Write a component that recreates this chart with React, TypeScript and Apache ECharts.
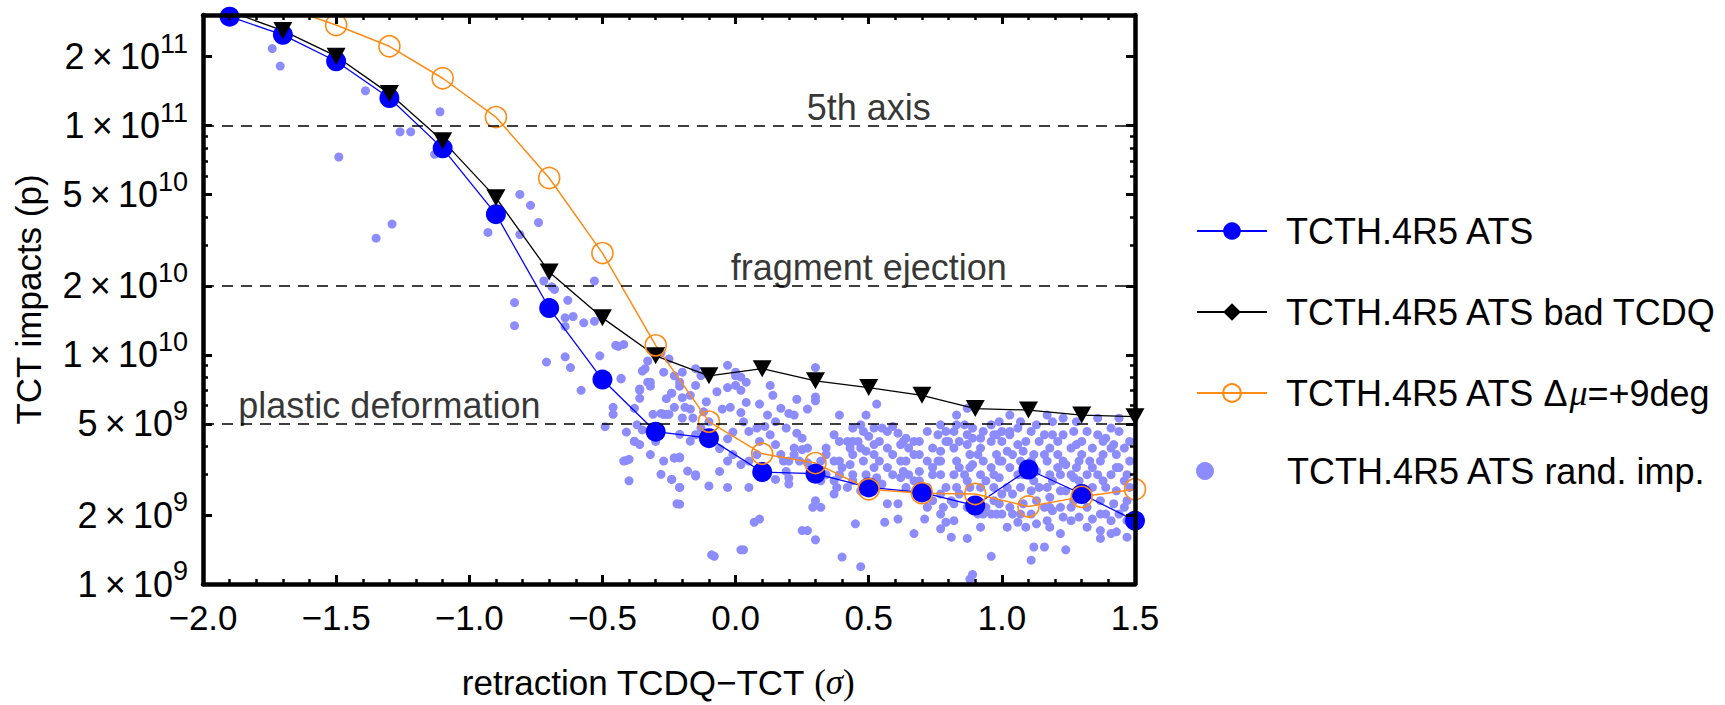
import React, { useEffect, useRef } from 'react';
import * as echarts from 'echarts';

// x positions of the simulated retraction settings (sigma)
const xPositions = [-1.9, -1.7, -1.5, -1.3, -1.1, -0.9, -0.7, -0.5, -0.3, -0.1, 0.1, 0.3, 0.5, 0.7, 0.9, 1.1, 1.3, 1.5];
// all values in units of 10^9 protons
const atsValues = [299, 249, 191, 132, 79.6, 41.1, 16.0, 7.8, 4.62, 4.33, 3.08, 3.03, 2.64, 2.51, 2.2, 3.16, 2.47, 1.89];
const badTcdqValues = [315, 260, 201, 138, 86, 48.5, 23.0, 14.5, 9.9, 8.1, 8.7, 7.7, 7.2, 6.66, 5.83, 5.74, 5.46, 5.37];
const dmuValues = [400, 330, 275, 222, 161, 109, 59.1, 27.8, 11.0, 5.11, 3.7, 3.37, 2.59, 2.49, 2.47, 2.18, 2.4, 2.59];

const randImpacts: number[][] = [
  [-1.74, 217], [-1.71, 182], [-1.39, 142], [-1.11, 115], [-1.26, 94], [-1.22, 94], [-1.49, 73], [-1.13, 75],
  [-1.35, 32.3], [-1.29, 37.2], [-0.81, 50.1], [-0.77, 44.9], [-0.74, 37.8], [-0.93, 34.2], [-0.81, 33.5],
  [-0.53, 21.0], [-0.83, 16.9], [-0.83, 13.4], [-0.72, 21.0], [-0.68, 19.3], [-0.69, 19.8], [-0.63, 17.3],
  [-0.64, 14.5], [-0.61, 14.7], [-0.64, 13.3], [-0.57, 13.8], [-0.53, 14.0],
  [-0.71, 9.3], [-0.64, 9.8], [-0.62, 8.8], [-0.58, 7.0],
  [-0.44, 10.9], [-0.51, 9.9], [-0.43, 7.9], [-0.46, 5.9], [-0.46, 5.5], [-0.49, 4.86], [-0.41, 3.46], [-0.38, 4.19],
  [-0.35, 4.7], [-0.36, 7.1], [-0.33, 7.6], [-0.36, 6.46], [-0.34, 8.7], [-0.32, 7.3], [-0.27, 5.5], [-0.26, 5.5],
  [-0.25, 5.5], [-0.24, 2.86], [-0.21, 2.64], [-0.21, 2.23], [-0.23, 3.55], [-0.21, 3.55], [-0.24, 6.8], [-0.21, 7.3],
  [-0.2, 6.5], [-0.16, 5.3], [-0.15, 2.96], [-0.15, 4.48], [-0.09, 1.34], [0.03, 1.41], [-0.45, 11.0],
  [-0.42, 11.1], [-0.43, 7.85], [-0.35, 8.5], [-0.32, 7.6], [-0.36, 7.0], [-0.41, 4.6], [-0.38, 4.2], [-0.42, 3.44],
  [-0.4, 3.5], [-0.33, 9.4], [-0.28, 10.2], [-0.25, 9.6], [-0.23, 8.1], [-0.2, 8.4], [-0.21, 7.6], [-0.24, 6.8],
  [-0.27, 5.5], [-0.31, 5.5], [-0.28, 5.55], [-0.23, 5.9], [-0.19, 5.9], [-0.17, 5.8], [-0.2, 5.3], [-0.21, 4.5],
  [-0.17, 4.2], [-0.23, 3.55], [-0.21, 3.58], [-0.15, 3.0], [-0.24, 2.86], [-0.21, 2.64], [-0.22, 2.24], [-0.1, 2.68],
  [-0.03, 2.64], [-0.08, 1.32], [-0.06, 3.1], [-0.03, 3.44], [-0.07, 6.9], [-0.03, 7.2], [0.0, 8.1], [0.0, 7.35],
  [0.02, 7.0], [0.04, 7.6], [-0.05, 5.8], [-0.02, 5.9], [0.02, 5.6], [-0.03, 9.0], [0.0, 8.4], [0.02, 8.0],
  [0.04, 6.2], [0.03, 5.1], [-0.01, 4.6], [-0.03, 4.3], [-0.06, 3.9], [-0.01, 3.67], [0.02, 3.32], [0.05, 3.44],
  [0.08, 3.67], [0.05, 2.64], [0.07, 1.86], [0.09, 1.92], [0.02, 1.41], [0.09, 6.1], [0.13, 7.35], [0.14, 6.66],
  [0.11, 4.87], [0.13, 4.48], [0.15, 4.06], [0.17, 3.67], [0.15, 2.86], [0.19, 3.1], [0.2, 2.9], [0.2, 2.73],
  [0.23, 6.4], [0.27, 5.8], [0.3, 8.8], [0.3, 6.55], [0.3, 6.3], [0.2, 5.55], [0.22, 5.46], [0.23, 4.55],
  [0.25, 4.33], [0.22, 3.92], [0.22, 3.67], [0.2, 3.44], [0.25, 3.86], [0.27, 3.38], [0.29, 3.1], [0.32, 2.82],
  [0.34, 3.0], [0.37, 3.44], [0.39, 3.0], [0.4, 3.22], [0.43, 3.32], [0.44, 3.67], [0.47, 3.92], [0.49, 3.8],
  [0.52, 4.06], [0.38, 2.64], [0.37, 2.47], [0.32, 2.16], [0.3, 2.31], [0.29, 2.16], [0.25, 1.71], [0.27, 1.71],
  [0.3, 1.56], [0.39, 5.46], [0.37, 4.48], [0.39, 4.19], [0.44, 4.79], [0.47, 4.95], [0.48, 4.63], [0.49, 5.46],
  [0.46, 4.19], [0.5, 4.41], [0.53, 6.1], [0.52, 4.79], [0.55, 4.79], [0.57, 4.63], [0.59, 4.87], [0.61, 4.55],
  [0.63, 4.19], [0.64, 4.33], [0.67, 4.19], [0.59, 3.67], [0.62, 3.44], [0.64, 3.44], [0.67, 3.67], [0.69, 3.1],
  [0.54, 3.44], [0.52, 3.22], [0.53, 2.91], [0.55, 2.73], [0.57, 2.24], [0.61, 2.24], [0.45, 1.83], [0.47, 1.19],
  [0.4, 1.31], [0.56, 1.86], [0.61, 1.92], [0.67, 1.66], [0.71, 1.92], [0.69, 2.82], [0.74, 3.22], [0.76, 3.44],
  [0.77, 3.8], [0.79, 4.19], [0.8, 4.19], [0.82, 4.63], [0.83, 5.46], [0.87, 5.84], [0.74, 3.92], [0.77, 3.0],
  [0.79, 2.64], [0.81, 2.31], [0.78, 2.16], [0.77, 2.02], [0.79, 1.86], [0.82, 1.89], [0.77, 1.74], [0.81, 1.6],
  [0.87, 1.58], [0.89, 1.1], [0.88, 1.05], [0.92, 1.77], [0.96, 1.32], [0.98, 2.02], [0.97, 2.31], [0.94, 2.16],
  [0.93, 2.02], [0.99, 2.24], [1.03, 2.16], [1.07, 2.02], [1.06, 1.86], [1.09, 1.77], [1.12, 1.45], [1.11, 1.27],
  [1.16, 1.45], [1.13, 1.83], [1.17, 1.89], [1.19, 2.09], [1.23, 1.96], [1.22, 1.66], [1.24, 1.41], [1.29, 1.96],
  [1.32, 2.16], [1.34, 1.92], [1.37, 1.71], [1.37, 1.58], [1.41, 1.66], [1.43, 1.69], [1.47, 1.6], [0.88, 2.64],
  [0.86, 3.0], [0.83, 3.44], [0.82, 3.92], [0.87, 4.06], [0.89, 4.33], [0.92, 3.92], [0.96, 4.19], [0.98, 4.48],
  [1.0, 4.19], [1.03, 4.48], [1.02, 3.8], [0.99, 3.44], [0.97, 3.0], [0.94, 2.82], [0.92, 3.0], [0.89, 3.32],
  [0.88, 3.67], [1.04, 3.67], [1.07, 3.44], [1.06, 3.0], [1.12, 2.82], [1.14, 2.64], [1.13, 2.31], [1.16, 2.16],
  [1.18, 2.39], [1.19, 2.82], [1.22, 3.0], [1.24, 3.32], [1.21, 3.67], [1.18, 3.92], [1.17, 3.44], [1.12, 3.67],
  [1.09, 4.19], [1.14, 4.19], [1.19, 4.48], [1.23, 4.48], [1.26, 3.92], [1.28, 4.06], [1.29, 3.44], [1.32, 3.0],
  [1.34, 3.22], [1.37, 3.44], [1.34, 3.92], [1.38, 4.19], [1.41, 3.92], [1.43, 3.67], [1.44, 3.22], [1.46, 2.82],
  [1.43, 2.55], [1.42, 2.24], [1.39, 2.02], [1.44, 2.02], [1.47, 2.31], [1.48, 3.44], [1.46, 3.92], [1.44, 4.63],
  [1.41, 4.79], [1.36, 5.29], [1.32, 4.63], [1.28, 5.11], [1.23, 5.29], [1.19, 5.11], [1.17, 5.46], [1.13, 4.95],
  [1.07, 5.11], [1.03, 5.46], [0.99, 5.11], [0.96, 4.95], [0.93, 4.63], [0.89, 4.79], [0.86, 4.95], [0.83, 4.95],
  [1.03, 4.63], [1.44, 5.29], [1.29, 2.82], [1.27, 2.31], [1.24, 2.55], [1.22, 2.16], [1.18, 2.16], [1.08, 2.24],
  [1.11, 2.02], [1.02, 2.64], [1.04, 2.47], [0.99, 2.91], [1.34, 2.64], [1.37, 2.31], [1.39, 2.64], [1.32, 2.47],
  [1.27, 2.91], [1.08, 3.0], [1.09, 3.22], [1.22, 2.55], [0.89, 2.31], [0.84, 2.47], [0.77, 2.47], [0.74, 2.31],
  [0.72, 2.16], [0.64, 2.64], [0.62, 2.91], [0.65, 3.0], [0.68, 2.55], [0.72, 2.64], [0.47, 2.55], [0.44, 2.82],
  [0.49, 3.0], [0.52, 2.64], [0.42, 2.64], [0.67, 2.82], [0.37, 2.82],
  [0.82, 3.0], [0.84, 3.22], [0.91, 3.67], [0.93, 3.44], [0.96, 3.22], [0.98, 3.67], [1.0, 3.44], [1.03, 3.22],
  [1.06, 4.06], [1.08, 3.8], [1.11, 3.44], [1.13, 3.1], [1.16, 3.67], [1.18, 3.0], [1.21, 3.22], [1.23, 3.44],
  [1.26, 3.0], [1.28, 3.22], [1.3, 3.67], [1.33, 3.44], [1.36, 3.0], [1.38, 2.82], [1.41, 3.0], [1.43, 3.22],
  [1.47, 3.0], [1.48, 2.64], [1.46, 2.16], [1.47, 1.89], [1.41, 1.89], [1.37, 2.02], [1.26, 2.16], [1.28, 2.55],
  [1.17, 2.64], [1.11, 2.55], [1.07, 2.64], [1.0, 2.47], [0.97, 2.64], [0.92, 2.64], [0.87, 2.82], [0.83, 2.64],
  [0.82, 2.24], [0.87, 2.16], [0.91, 2.02], [0.96, 2.02], [1.0, 2.02], [1.04, 2.02], [1.02, 1.77], [1.18, 1.77],
  [1.26, 1.89], [1.32, 1.77], [1.21, 4.19], [1.16, 4.48], [1.11, 4.63], [1.06, 4.79], [1.0, 4.63], [0.97, 4.48],
  [0.92, 4.33], [0.87, 4.48], [0.84, 4.19], [1.27, 4.63], [1.3, 4.19], [1.36, 4.48], [1.39, 4.33], [1.42, 4.06],
  [1.48, 4.19], [1.38, 3.67], [0.88, 3.22], [0.77, 3.44], [0.74, 3.0], [0.72, 3.44], [0.69, 3.67], [0.69, 4.19],
  [0.72, 4.63], [0.76, 4.48], [0.77, 4.95], [0.79, 4.63], [0.57, 3.92], [0.62, 4.06], [0.65, 3.92], [0.54, 4.19],
  [0.52, 3.67], [0.57, 3.22], [0.59, 3.0], [0.63, 3.1], [0.42, 4.19], [0.43, 3.92], [0.44, 4.19], [0.48, 3.44],
  [0.44, 3.0], [0.39, 3.44], [0.34, 3.67], [0.32, 3.44], [0.34, 3.92], [0.27, 3.92], [0.24, 3.44], [0.18, 3.44],
  [0.15, 5.11], [0.17, 5.84], [0.19, 4.79], [0.12, 5.46], [0.08, 4.79], [0.05, 4.63], [0.09, 4.19], [-0.11, 6.24],
  [-0.12, 5.64], [-0.1, 5.11], [-0.13, 4.79], [-0.3, 4.19], [-0.36, 4.06], [-0.32, 3.67], [-0.27, 3.44], [-0.18, 3.11],
  [-0.28, 3.01], [-0.4, 2.82], [-0.37, 4.95], [-0.26, 6.44], [-0.17, 6.66], [-0.15, 7.35], [-0.13, 8.12], [-0.15, 8.7],
  [-0.27, 8.4], [-0.38, 5.84]
];

const thresholdValues = [100, 20, 5];
const thresholdLabels = ['5th axis', 'fragment ejection', 'plastic deformation'];
const thresholdLabelX = [0.5, 0.5, -1.3];

const yMajorTicks = [1, 2, 5, 10, 20, 50, 100, 200];
const yMinorTicks = [3, 4, 6, 7, 8, 9, 30, 40, 60, 70, 80, 90];

const seriesNames = [
  'TCTH.4R5 ATS',
  'TCTH.4R5 ATS bad TCDQ',
  'TCTH.4R5 ATS \u0394\u03bc=+9deg',
  'TCTH.4R5 ATS rand. imp.'
];

const FONT = '"Liberation Sans", Arial, Helvetica, sans-serif';
const SERIF = '"Liberation Serif", "DejaVu Serif", serif';
const BLUE = '#0000ff';
const ORANGE = '#ff8a14';
const LIGHT = '#8c8cff';

const Y_MIN = 1;
const Y_MAX = 304;

function yLabel(v: number) {
  const e = Math.floor(Math.log10(v) + 1e-9);
  const m = Math.round(v / Math.pow(10, e));
  return `{m|${m}\u2009\u00d7\u200910}{e|${e + 9}}`;
}

function xLabel(v: number) {
  const s = Math.abs(v).toFixed(1);
  return v < -1e-9 ? '\u2212' + s : s;
}

export default function App() {
  const ref = useRef<HTMLDivElement>(null);

  useEffect(() => {
    if (!ref.current) return;
    const chart = echarts.init(ref.current, undefined, { renderer: 'svg' });

    const frame = { color: '#000', width: 4.5 };
    const majorTick = { show: true, inside: true, length: 9, lineStyle: { color: '#000', width: 3 } };
    const minorTickY = { show: true, inside: true, length: 5, lineStyle: { color: '#000', width: 2.5 } };

    const xCommon = {
      type: 'value',
      min: -2,
      max: 1.5,
      interval: 0.5,
      z: 5,
      splitLine: { show: false },
      minorSplitLine: { show: false },
      axisLine: { show: true, onZero: false, lineStyle: frame },
      axisTick: majorTick,
      minorTick: { show: true, splitNumber: 5, length: 5, lineStyle: { color: '#000', width: 2.5 } }
    };

    const yCommon = {
      type: 'log',
      logBase: 10,
      min: Y_MIN,
      max: Y_MAX,
      z: 5,
      splitLine: { show: false }
    };

    const option: any = {
      animation: false,
      backgroundColor: '#fff',
      grid: { left: 203, right: 590, top: 15, bottom: 114, containLabel: false },
      xAxis: [
        {
          ...xCommon,
          position: 'bottom',
          axisLabel: {
            show: true,
            margin: 16,
            fontSize: 35,
            color: '#000',
            fontFamily: FONT,
            showMinLabel: true,
            showMaxLabel: true,
            formatter: xLabel
          },
          name: '{a|retraction TCDQ\u2212TCT }{b|(}{c|\u03c3}{b|)}',
          nameLocation: 'middle',
          nameGap: 81,
          nameTextStyle: {
            padding: [0, 22, 0, 0],
            rich: {
              a: { fontSize: 35, fontFamily: FONT, color: '#000' },
              b: { fontSize: 35, fontFamily: SERIF, color: '#000' },
              c: { fontSize: 35, fontFamily: SERIF, fontStyle: 'italic', color: '#000' }
            }
          }
        },
        {
          ...xCommon,
          position: 'top',
          axisLabel: { show: false }
        }
      ],
      yAxis: [
        {
          ...yCommon,
          position: 'left',
          axisLine: { show: true, onZero: false, lineStyle: frame },
          axisTick: { ...majorTick, customValues: yMajorTicks },
          axisLabel: {
            show: true,
            customValues: yMajorTicks,
            margin: 15,
            formatter: yLabel,
            rich: {
              m: { fontSize: 36, fontFamily: FONT, color: '#000' },
              e: { fontSize: 27, fontFamily: FONT, color: '#000', padding: [0, 0, 26, 0] }
            }
          },
          name: 'TCT impacts (p)',
          nameLocation: 'middle',
          nameGap: 157,
          nameTextStyle: { fontSize: 35, fontFamily: FONT, color: '#000' }
        },
        {
          ...yCommon,
          position: 'left',
          axisLine: { show: false, onZero: false },
          axisTick: { ...minorTickY, customValues: yMinorTicks },
          axisLabel: { show: false }
        },
        {
          ...yCommon,
          position: 'right',
          axisLine: { show: true, onZero: false, lineStyle: frame },
          axisTick: { ...majorTick, customValues: yMajorTicks },
          axisLabel: { show: false }
        },
        {
          ...yCommon,
          position: 'right',
          axisLine: { show: false, onZero: false },
          axisTick: { ...minorTickY, customValues: yMinorTicks },
          axisLabel: { show: false }
        }
      ],
      legend: [
        {
          data: seriesNames.slice(0, 3),
          orient: 'vertical',
          left: 1196,
          top: 213,
          padding: 0,
          itemWidth: 70,
          itemHeight: 22,
          itemGap: 45,
          selectedMode: false,
          formatter: (name: string) => name.replace('\u03bc', '{mu|\u03bc}'),
          textStyle: {
            fontSize: 36,
            fontFamily: FONT,
            color: '#000',
            padding: [0, 0, 0, 14],
            rich: {
              mu: { fontSize: 36, fontFamily: SERIF, fontStyle: 'italic', color: '#000' }
            }
          }
        },
        {
          data: [seriesNames[3]],
          orient: 'vertical',
          left: 1196,
          top: 453,
          padding: 0,
          itemWidth: 36,
          itemHeight: 18,
          selectedMode: false,
          textStyle: { fontSize: 36, fontFamily: FONT, color: '#000', padding: [0, 0, 0, 59] }
        }
      ],
      series: [
        {
          name: seriesNames[3],
          type: 'scatter',
          xAxisIndex: 0,
          yAxisIndex: 0,
          symbol: 'circle',
          symbolSize: 9,
          itemStyle: { color: LIGHT, opacity: 1 },
          data: randImpacts,
          silent: true,
          markLine: {
            silent: true,
            symbol: ['none', 'none'],
            label: { show: false },
            lineStyle: { color: '#000', width: 1.5, type: [11, 8] },
            data: thresholdValues.map((v) => ({ yAxis: v }))
          }
        },
        {
          name: seriesNames[0],
          type: 'line',
          xAxisIndex: 0,
          yAxisIndex: 0,
          symbol: 'circle',
          symbolSize: 20,
          showAllSymbol: true,
          itemStyle: { color: BLUE },
          lineStyle: { color: BLUE, width: 1.3 },
          data: xPositions.map((x, i) => [x, atsValues[i]])
        },
        {
          name: seriesNames[1],
          type: 'line',
          xAxisIndex: 0,
          yAxisIndex: 0,
          symbol: 'diamond',
          symbolSize: [19, 17],
          showAllSymbol: true,
          itemStyle: { color: '#000' },
          lineStyle: { color: '#000', width: 1.3 },
          data: xPositions.map((x, i) => ({
            value: [x, badTcdqValues[i]],
            symbol: 'triangle',
            symbolRotate: 180
          }))
        },
        {
          name: seriesNames[2],
          type: 'line',
          xAxisIndex: 0,
          yAxisIndex: 0,
          symbol: 'circle',
          symbolSize: 21,
          showAllSymbol: true,
          itemStyle: { color: 'rgba(255,255,255,0)', borderColor: ORANGE, borderWidth: 1.6 },
          lineStyle: { color: ORANGE, width: 1.5 },
          data: xPositions.map((x, i) => [x, dmuValues[i]])
        },
        {
          name: 'threshold labels',
          type: 'scatter',
          xAxisIndex: 0,
          yAxisIndex: 0,
          silent: true,
          symbol: 'circle',
          symbolSize: 1,
          itemStyle: { color: 'rgba(0,0,0,0)' },
          label: {
            show: true,
            position: 'top',
            distance: 0,
            fontSize: 36,
            fontFamily: FONT,
            color: '#000'
          },
          data: thresholdValues.map((v, i) => ({
            value: [thresholdLabelX[i], v],
            label: { formatter: thresholdLabels[i] }
          }))
        }
      ]
    };

    chart.setOption(option);
    return () => chart.dispose();
  }, []);

  return (
    <div
      ref={ref}
      style={{ position: 'fixed', left: 0, top: 0, width: 1725, height: 705, background: '#fff' }}
    />
  );
}
